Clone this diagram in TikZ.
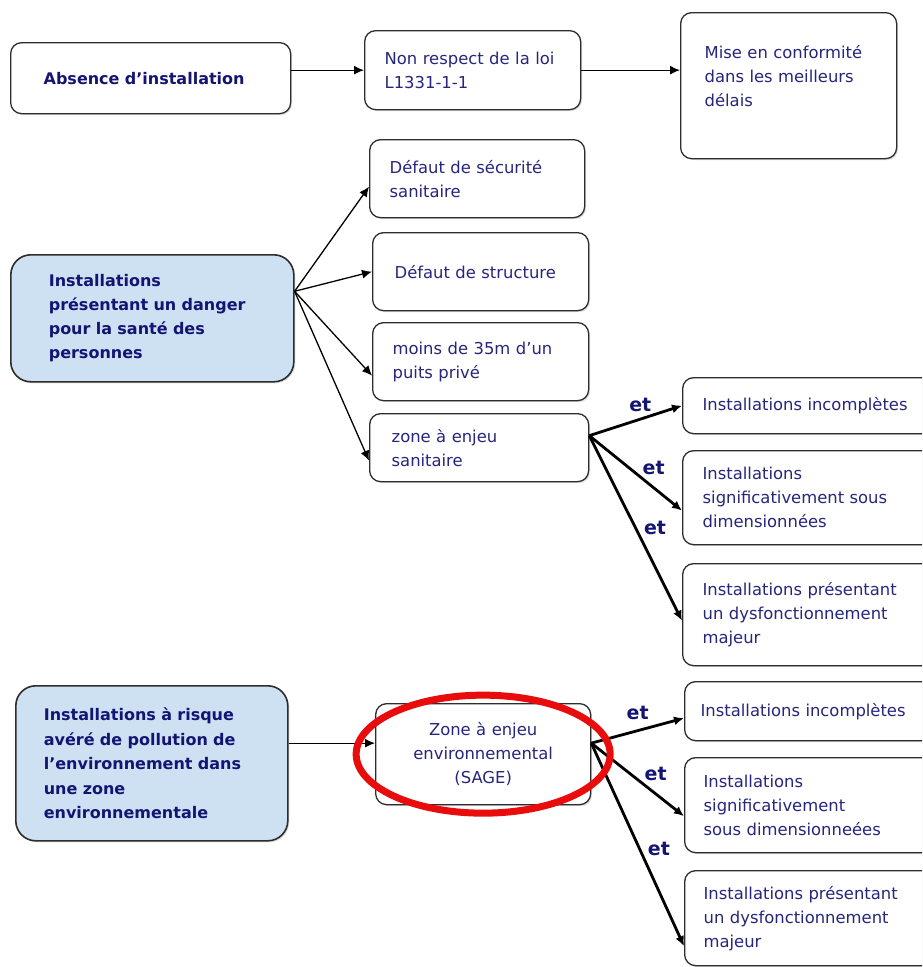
\documentclass[tikz,border=0pt]{standalone}
\usepackage{fontspec}
\setmainfont{DejaVu Sans}
\usetikzlibrary{arrows.meta,shadows}

\definecolor{navytext}{RGB}{38,38,125}
\definecolor{navybold}{RGB}{20,20,115}
\definecolor{paleblue}{RGB}{206,225,243}
\definecolor{ringred}{RGB}{232,12,12}
\definecolor{boxline}{RGB}{45,45,45}

\tikzset{
    plainbox/.style={draw=boxline, line width=1.3pt, rounded corners=11pt, fill=white,
        anchor=north west, align=left, inner ysep=0pt, inner xsep=20pt, text=navytext,
        font=\fontsize{16.4}{24}\selectfont,
        drop shadow={opacity=.25, shadow xshift=1.5pt, shadow yshift=-1.5pt}},
    boldtext/.style={text=navybold, font=\bfseries\fontsize{16}{24}\selectfont},
    bluebox/.style={plainbox, boldtext, fill=paleblue, line width=1.6pt, rounded corners=20pt},
    thinarrow/.style={-{Latex[length=10pt,width=9pt]}, line width=1.3pt, black},
    etarrow/.style={-{Latex[length=10pt,width=9pt]}, line width=2.8pt, black},
    etlabel/.style={text=navybold, font=\bfseries\fontsize{19}{19}\selectfont, inner sep=1pt}
}

\begin{document}
\begin{tikzpicture}[x=1pt, y=-1pt]
    \useasboundingbox (0,0) rectangle (922,967);
    \clip (0,0) rectangle (922,967);

    \node[plainbox, boldtext, inner xsep=33pt, text width=214pt, minimum height=71pt] (absence) at (10,42) {Absence d’installation};
    \node[plainbox, text width=176pt, minimum height=79pt] (loi) at (364,30) {Non respect de la loi\\L1331-1-1};
    \node[plainbox, inner xsep=24pt, text width=168pt, minimum height=146pt, text depth=68pt] (mise) at (680,12) {Mise en conformité\\dans les meilleurs\\délais};

    \node[bluebox, inner xsep=38pt, text width=207pt, minimum height=127pt] (danger) at (10,254) {Installations\\présentant un danger\\pour la santé des\\personnes};
    \node[plainbox, text width=175pt, minimum height=78pt] (secu) at (369,139) {Défaut de sécurité\\sanitaire};
    \node[plainbox, inner xsep=22pt, text width=172pt, minimum height=78pt] (structure) at (372,232) {Défaut de structure};
    \node[plainbox, text width=176pt, minimum height=78pt] (moins) at (372,322) {moins de 35m d’un\\puits privé};
    \node[plainbox, inner xsep=22pt, text width=175pt, minimum height=68pt] (zonesan) at (369,413) {zone à enjeu\\sanitaire};

    \node[plainbox, text width=228pt, minimum height=56pt] (incompA) at (682,377) {Installations incomplètes};
    \node[plainbox, text width=228pt, minimum height=94pt] (signifA) at (682,450) {Installations\\significativement sous\\dimensionnées};
    \node[plainbox, text width=228pt, minimum height=102pt] (dysfA) at (682,563) {Installations présentant\\un dysfonctionnement\\majeur};

    \node[bluebox, inner xsep=28pt, text width=216pt, minimum height=155pt, font=\bfseries\fontsize{16}{24.5}\selectfont] (risque) at (15,685) {Installations à risque\\avéré de pollution de\\l’environnement dans\\une zone\\environnementale};
    \node[plainbox, align=center, text width=175pt, minimum height=101pt] (sage) at (375,703) {Zone à enjeu\\environnemental\\(SAGE)};

    \node[plainbox, inner xsep=16pt, text width=234pt, minimum height=59pt] (incompB) at (684,681) {Installations incomplètes};
    \node[plainbox, inner xsep=19pt, text width=228pt, minimum height=95pt] (signifB) at (684,757) {Installations\\significativement\\sous dimensionneées};
    \node[plainbox, inner xsep=19pt, text width=228pt, minimum height=95pt] (dysfB) at (684,870) {Installations présentant\\un dysfonctionnement\\majeur};

    \draw[thinarrow] (absence.east |- loi.west) -- (loi.west);
    \draw[thinarrow] (loi.east) -- (mise.west |- loi.east);

    \coordinate (dangerout) at ([yshift=27pt]danger.east);
    \draw[thinarrow] (dangerout) -- ([yshift=-8pt]secu.west);
    \draw[thinarrow] (dangerout) -- (structure.west);
    \draw[thinarrow] (dangerout) -- ([yshift=-14pt]moins.west);
    \draw[thinarrow] (dangerout) -- ([yshift=-13pt]zonesan.west);

    \coordinate (sanout) at ([yshift=12pt]zonesan.east);
    \draw[etarrow] (sanout) -- (incompA.west) node[etlabel, pos=.55, above=5pt] {et};
    \draw[etarrow] (sanout) -- ([yshift=-13pt]signifA.west) node[etlabel, pos=.55, above right=0pt] {et};
    \draw[etarrow] (sanout) -- ([yshift=-6pt]dysfA.west) node[etlabel, pos=.5, right=6pt] {et};

    \coordinate (sagein) at ([yshift=11pt]sage.west);
    \draw[thinarrow] (risque.east |- sagein) -- (sagein);

    \coordinate (sageout) at ([yshift=11pt]sage.east);
    \draw[etarrow] (sageout) -- ([yshift=-7pt]incompB.west) node[etlabel, pos=.5, above=8pt] {et};
    \draw[etarrow] (sageout) -- ([yshift=-11pt]signifB.west) node[etlabel, pos=.55, above right=0pt] {et};
    \draw[etarrow] (sageout) -- ([yshift=-28pt]dysfB.west) node[etlabel, pos=.52, right=6pt] {et};

    \draw[ringred, line width=7pt] (sage.center) ellipse [x radius=127pt, y radius=59pt];
\end{tikzpicture}
\end{document}
